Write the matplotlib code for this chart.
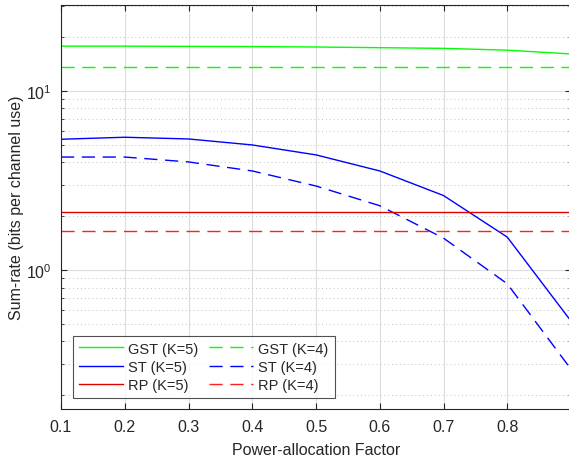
import matplotlib

matplotlib.use("Agg")
import matplotlib.pyplot as plt
from matplotlib.ticker import LogLocator, NullFormatter, FixedLocator

plt.rcParams["font.family"] = ["Liberation Sans", "DejaVu Sans"]

# power-allocation factor sampled on the x-axis
alpha = [0.1, 0.2, 0.3, 0.4, 0.5, 0.6, 0.7, 0.8, 0.9]

# sum-rate curves (bits per channel use)
gst_k5 = [17.8, 17.8, 17.75, 17.7, 17.6, 17.45, 17.3, 16.9, 16.1]
gst_k4 = [13.6] * 9
st_k5 = [5.38, 5.52, 5.4, 5.0, 4.4, 3.58, 2.61, 1.53, 0.52]
st_k4 = [4.28, 4.28, 4.02, 3.58, 2.95, 2.29, 1.51, 0.84, 0.28]
rp_k5 = [2.11] * 9
rp_k4 = [1.66] * 9

xticks = [0.1, 0.2, 0.3, 0.4, 0.5, 0.6, 0.7, 0.8]

W, H = 569, 464
fig = plt.figure(figsize=(W / 100, H / 100), dpi=100)
# axes box in pixels: left 61, right ~571 (cropped), top 6, bottom 410
ax = fig.add_axes([61 / W, (H - 410) / H, (571 - 61) / W, (410 - 6) / H])

ink = "#262626"
lw = 1.0
dash = (0, (9.5, 5.5))
ax.plot(alpha, gst_k5, color="#00ff00", lw=lw, label="GST (K=5)")
ax.plot(alpha, gst_k4, color="#00ff00", lw=lw, ls=dash, label="GST (K=4)")
ax.plot(alpha, st_k5, color="#0000ff", lw=lw, label="ST (K=5)")
ax.plot(alpha, st_k4, color="#0000ff", lw=lw, ls=dash, label="ST (K=4)")
ax.plot(alpha, rp_k5, color="#e00000", lw=lw, label="RP (K=5)")
ax.plot(alpha, rp_k4, color="#ff2020", lw=lw, ls=dash, label="RP (K=4)")

ax.set_yscale("log")
ax.set_xlim(0.1, 0.9)
ax.set_ylim(0.168, 30.2)
ax.xaxis.set_major_locator(FixedLocator(xticks))
ax.set_xticklabels([f"{t:.1f}" for t in xticks])
ax.yaxis.set_major_locator(LogLocator(base=10, numticks=10))
ax.yaxis.set_minor_locator(LogLocator(base=10, subs=range(2, 10), numticks=20))
ax.yaxis.set_minor_formatter(NullFormatter())

ax.grid(True, which="major", color="#dcdcdc", lw=0.8, ls="-")
ax.grid(True, which="minor", axis="y", color="#c0c0c0", lw=0.7, ls=(0, (1, 3)))
ax.set_axisbelow(True)

ax.tick_params(which="both", direction="in", top=True, right=True,
               colors=ink, labelsize=11.5, pad=7)
ax.tick_params(which="major", length=4)
ax.tick_params(which="minor", length=2.5)
for s in ax.spines.values():
    s.set_color(ink)
    s.set_linewidth(0.8)

ax.set_xlabel("Power-allocation Factor", fontsize=11.5, color=ink, labelpad=6)
ax.set_ylabel("Sum-rate (bits per channel use)", fontsize=11.5, color=ink, labelpad=1)

# legend: column 1 = K=5, column 2 = K=4
handles, labels = ax.get_legend_handles_labels()
order = [0, 2, 4, 1, 3, 5]
leg = ax.legend([handles[i] for i in order], [labels[i] for i in order],
                ncol=2, loc="lower left", bbox_to_anchor=(0.0235, 0.027),
                borderaxespad=0, fontsize=10.5, frameon=True, fancybox=False,
                handlelength=3.0, columnspacing=0.7, labelspacing=0.3,
                borderpad=0.4, handletextpad=0.4)
leg.get_frame().set_edgecolor(ink)
leg.get_frame().set_linewidth(0.8)
for t in leg.get_texts():
    t.set_color(ink)

fig.savefig("out.png", dpi=100)
